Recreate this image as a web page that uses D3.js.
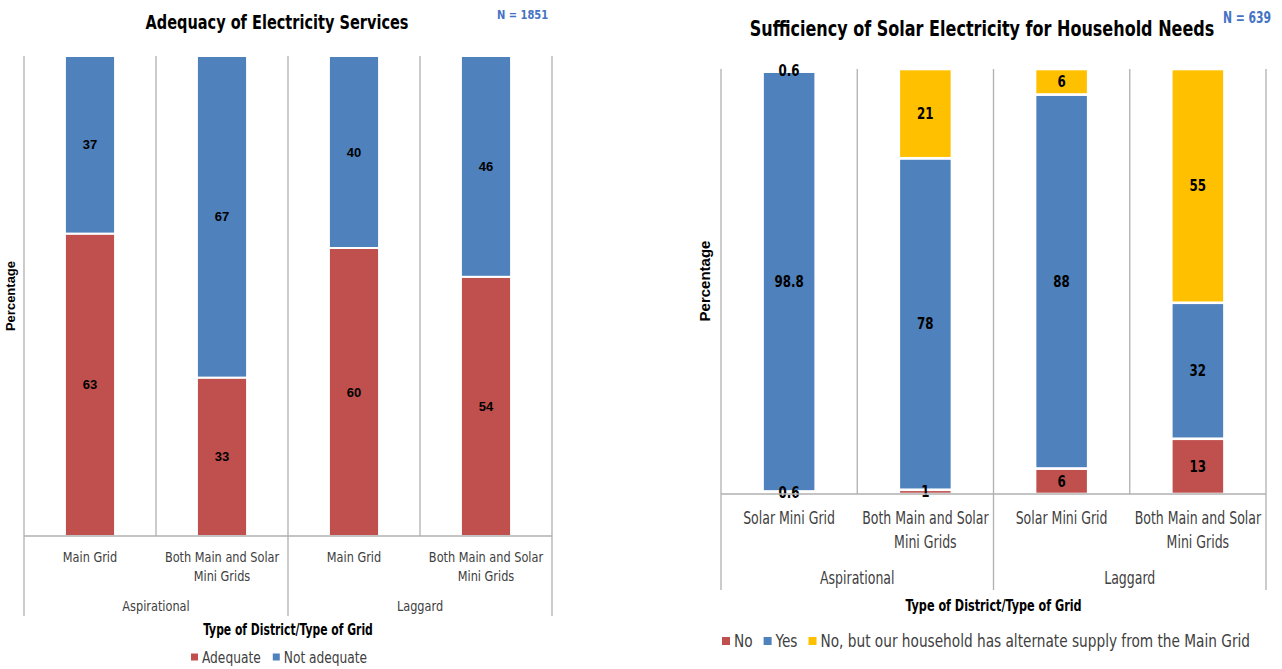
<!DOCTYPE html>
<html>
<head>
<meta charset="utf-8">
<script src="https://cdn.jsdelivr.net/npm/d3@7/dist/d3.min.js"></script>
<style>
  html, body { margin: 0; padding: 0; background: #fff; }
  svg { display: block; }
  .cond { font-family: "DejaVu Sans Condensed", "Liberation Sans Narrow", "Liberation Sans", sans-serif; }
  .arial { font-family: "Liberation Sans", Arial, sans-serif; }
</style>
</head>
<body>
<svg id="chart" width="1282" height="669"></svg>
<script>
// ---------- DATA ----------
const leftTitle = "Adequacy of Electricity Services";
const leftN = "N = 1851";
const leftSubCategories = [["Main Grid"], ["Both Main and Solar", "Mini Grids"], ["Main Grid"], ["Both Main and Solar", "Mini Grids"]];
const leftGroups = ["Aspirational", "Laggard"];
const leftSeriesNames = ["Adequate", "Not adequate"];
const leftAdequate = [63, 33, 60, 54];
const leftNotAdequate = [37, 67, 40, 46];

const rightTitle = "Sufficiency of Solar Electricity for Household Needs";
const rightN = "N = 639";
const rightSubCategories = [["Solar Mini Grid"], ["Both Main and Solar", "Mini Grids"], ["Solar Mini Grid"], ["Both Main and Solar", "Mini Grids"]];
const rightGroups = ["Aspirational", "Laggard"];
const rightSeriesNames = ["No", "Yes", "No, but our household has alternate supply from the Main Grid"];
const rightNo = [0.6, 1, 6, 13];
const rightYes = [98.8, 78, 88, 32];
const rightAlt = [0.6, 21, 6, 55];

const xAxisTitle = "Type of District/Type of Grid";
const yAxisTitle = "Percentage";

// ---------- STYLE ----------
const RED = "#c0504d", BLUE = "#4f81bd", YELLOW = "#ffc000", GRID = "#b0b0b0";

const svg = d3.select("#chart");

// squeeze text horizontally (about its anchor x) to mimic a condensed face
function condense(sel, f) {
  if (!f || f === 1) return sel;
  sel.each(function () {
    const ax = +this.getAttribute("x") || 0;
    this.setAttribute("transform", `translate(${ax},0) scale(${f},1) translate(${-ax},0)`);
  });
  return sel;
}

function drawChart(cfg) {
  const g = svg.append("g");
  const n = cfg.series[0].length;
  const rows = d3.range(n).map(i => {
    const o = { i };
    cfg.names.forEach((nm, k) => o[nm] = cfg.series[k][i]);
    return o;
  });
  const stack = d3.stack().keys(cfg.names)(rows);

  const x = d3.scaleBand().domain(d3.range(n)).range([cfg.x0, cfg.x1]);
  const y = d3.scaleLinear().domain([0, 100]).range([cfg.yBottom, cfg.yTop]);
  const bw = x.bandwidth() * cfg.barFrac;
  const color = d3.scaleOrdinal().domain(cfg.names).range(cfg.colors);

  // vertical separators within plot
  const seps = d3.range(n + 1).map(i => i === n ? cfg.x1 : x(i));
  g.selectAll(".sep").data(seps).join("line")
    .attr("x1", d => d).attr("x2", d => d)
    .attr("y1", cfg.yTop).attr("y2", cfg.yBottom)
    .attr("stroke", GRID).attr("stroke-width", 1.3);

  // bars
  stack.forEach(layer => {
    g.selectAll(null).data(layer).join("rect")
      .attr("x", (d, i) => x(i) + (x.bandwidth() - bw) / 2)
      .attr("width", bw)
      .attr("y", d => y(d[1]))
      .attr("height", d => y(d[0]) - y(d[1]))
      .attr("fill", color(layer.key))
      .attr("stroke", "#fff").attr("stroke-width", cfg.barStroke);
  });

  // value labels
  stack.forEach((layer, k) => {
    const t = g.selectAll(null).data(layer).join("text")
      .attr("class", cfg.valueClass)
      .attr("x", (d, i) => x(i) + x.bandwidth() / 2)
      .attr("y", d => (y(d[0]) + y(d[1])) / 2)
      .attr("dy", "0.36em")
      .attr("text-anchor", "middle")
      .attr("font-weight", "bold")
      .attr("font-size", cfg.valueSize)
      .attr("fill", "#000")
      .text(d => cfg.series[k][d.data.i]);
    condense(t, cfg.valueCond);
  });

  // category axis line
  g.append("line").attr("x1", cfg.x0).attr("x2", cfg.x1)
    .attr("y1", cfg.yBottom).attr("y2", cfg.yBottom)
    .attr("stroke", GRID).attr("stroke-width", 1.3);

  // group boundary lines extending down
  const perGroup = n / cfg.groups.length;
  const gb = d3.range(cfg.groups.length + 1).map(j => j === cfg.groups.length ? cfg.x1 : x(j * perGroup));
  g.selectAll(".gb").data(gb).join("line")
    .attr("x1", d => d).attr("x2", d => d)
    .attr("y1", cfg.yBottom).attr("y2", cfg.axisBottom)
    .attr("stroke", GRID).attr("stroke-width", 1.3);

  // subcategory labels
  cfg.subCats.forEach((lines, i) => {
    const cxp = x(i) + x.bandwidth() / 2;
    const t = g.append("text").attr("class", "cond")
      .attr("x", cxp)
      .attr("y", cfg.subY)
      .attr("text-anchor", "middle")
      .attr("font-size", cfg.catSize)
      .attr("fill", "#404040");
    lines.forEach((ln, j) => t.append("tspan").attr("x", cxp)
      .attr("dy", j === 0 ? 0 : cfg.catLine).text(ln));
    condense(t, cfg.catCond);
  });

  // group labels
  cfg.groups.forEach((gn, j) => {
    const t = g.append("text").attr("class", "cond")
      .attr("x", (gb[j] + gb[j + 1]) / 2)
      .attr("y", cfg.groupY)
      .attr("text-anchor", "middle")
      .attr("font-size", cfg.catSize)
      .attr("fill", "#404040")
      .text(gn);
    condense(t, cfg.catCond);
  });

  // axis title
  condense(g.append("text").attr("class", "cond")
    .attr("x", (cfg.x0 + cfg.x1) / 2).attr("y", cfg.axisTitleY)
    .attr("text-anchor", "middle").attr("font-weight", "bold")
    .attr("font-size", cfg.axisTitleSize).attr("fill", "#000")
    .text(xAxisTitle), cfg.axisTitleCond);

  // y title
  g.append("text").attr("class", "arial")
    .attr("transform", `translate(${cfg.yTitleX},${cfg.yTitleY}) rotate(-90)`)
    .attr("text-anchor", "middle").attr("font-weight", "bold")
    .attr("font-size", cfg.yTitleSize).attr("fill", "#000")
    .text(yAxisTitle);

  // chart title
  condense(g.append("text").attr("class", "cond")
    .attr("x", cfg.titleX).attr("y", cfg.titleY)
    .attr("text-anchor", "middle").attr("font-weight", "bold")
    .attr("font-size", cfg.titleSize).attr("fill", "#000")
    .text(cfg.title), cfg.titleCond);

  condense(g.append("text").attr("class", "cond")
    .attr("x", cfg.nX).attr("y", cfg.nY)
    .attr("font-weight", "bold")
    .attr("font-size", cfg.nSize).attr("fill", "#4472c4")
    .text(cfg.nText), cfg.nCond);

  // legend
  const lg = g.append("g");
  let cx = cfg.legendX;
  cfg.names.forEach((nm, k) => {
    lg.append("rect").attr("x", cx).attr("y", cfg.legendY - cfg.legendSq / 2)
      .attr("width", cfg.legendSq).attr("height", cfg.legendSq).attr("fill", color(nm));
    const t = lg.append("text").attr("class", "cond")
      .attr("x", cx + cfg.legendSq + 4).attr("y", cfg.legendY).attr("dy", "0.36em")
      .attr("font-size", cfg.legendSize).attr("fill", "#404040").text(nm);
    const w = t.node().getComputedTextLength() * cfg.legendCond;
    condense(t, cfg.legendCond);
    cx += cfg.legendSq + 4 + w + cfg.legendGap;
  });
}

drawChart({
  series: [leftAdequate, leftNotAdequate], names: leftSeriesNames, colors: [RED, BLUE],
  subCats: leftSubCategories, groups: leftGroups,
  x0: 24, x1: 552, yTop: 56, yBottom: 536, axisBottom: 616, barFrac: 0.38, barStroke: 2,
  valueSize: 13, valueClass: "arial", valueCond: 0,
  subY: 562, catLine: 19, catSize: 14, catCond: 0.9, groupY: 611,
  axisTitleY: 635, axisTitleSize: 15, axisTitleCond: 0.8,
  yTitleX: 14.5, yTitleY: 296, yTitleSize: 13,
  title: leftTitle, titleX: 277, titleY: 29, titleSize: 19, titleCond: 0.85,
  nText: leftN, nX: 497, nY: 19, nSize: 13, nCond: 0.85,
  legendX: 191, legendY: 657, legendSq: 7, legendSize: 16, legendCond: 0.85, legendGap: 12
});

drawChart({
  series: [rightNo, rightYes, rightAlt], names: rightSeriesNames, colors: [RED, BLUE, YELLOW],
  subCats: rightSubCategories, groups: rightGroups,
  x0: 721, x1: 1266, yTop: 69, yBottom: 494, axisBottom: 590, barFrac: 0.39, barStroke: 2.6,
  valueSize: 15, valueClass: "cond", valueCond: 0.88,
  subY: 524, catLine: 24, catSize: 17, catCond: 0.82, groupY: 584,
  axisTitleY: 611, axisTitleSize: 16, axisTitleCond: 0.78,
  yTitleX: 710, yTitleY: 281, yTitleSize: 15,
  title: rightTitle, titleX: 982, titleY: 36, titleSize: 22, titleCond: 0.81,
  nText: rightN, nX: 1223, nY: 23, nSize: 15, nCond: 0.8,
  legendX: 722, legendY: 641, legendSq: 8, legendSize: 18, legendCond: 0.845, legendGap: 11
});
</script>
</body>
</html>
